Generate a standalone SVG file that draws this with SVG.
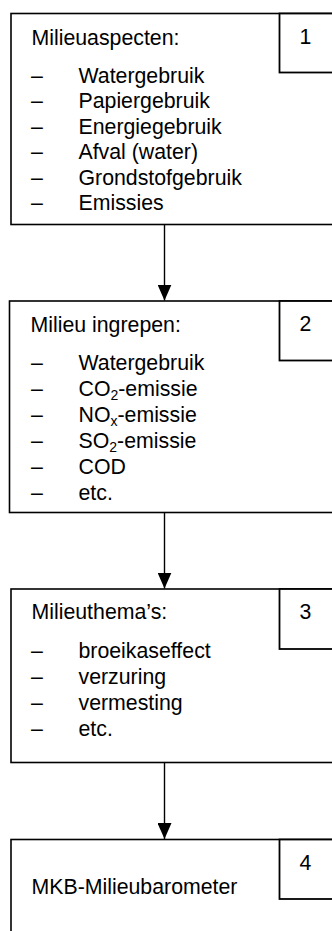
<svg xmlns="http://www.w3.org/2000/svg" width="332" height="931" viewBox="0 0 332 931">
<defs>
<style>
.box{fill:#fff;stroke:#000;stroke-width:1.6}
.num{fill:#fff;stroke:#000;stroke-width:1.8}
.t{font-family:"Liberation Sans",Arial,sans-serif;font-size:21.3px;fill:#000}
.sub{font-size:14px}
.con{stroke:#000;stroke-width:1.4;fill:none}
</style>
<marker id="ah" viewBox="0 0 16 14" refX="16" refY="7" markerWidth="16" markerHeight="14" markerUnits="userSpaceOnUse" orient="auto">
<path d="M0,0 L16,7 L0,14 Z" fill="#000"/>
</marker>
</defs>
<rect width="332" height="931" fill="#fff"/>
<g id="node1">
<rect class="box" x="11" y="13.5" width="340" height="211"/>
<rect class="num" x="279.5" y="13.5" width="70" height="59"/>
<text class="t" x="299.5" y="43.5">1</text>
<text class="t" x="31.5" y="44.5">Milieuaspecten:</text>
<text class="t" x="31" y="82.5">–</text><text class="t" x="78.5" y="82.5">Watergebruik</text>
<text class="t" x="31" y="108">–</text><text class="t" x="78.5" y="108">Papiergebruik</text>
<text class="t" x="31" y="133.5">–</text><text class="t" x="78.5" y="133.5">Energiegebruik</text>
<text class="t" x="31" y="159">–</text><text class="t" x="78.5" y="159">Afval (water)</text>
<text class="t" x="31" y="184.5">–</text><text class="t" x="78.5" y="184.5">Grondstofgebruik</text>
<text class="t" x="31" y="210">–</text><text class="t" x="78.5" y="210">Emissies</text>
</g>
<g id="node2">
<rect class="box" x="9.5" y="301" width="340" height="211.5"/>
<rect class="num" x="279.5" y="301" width="70" height="59.5"/>
<text class="t" x="299.5" y="331">2</text>
<text class="t" x="30.5" y="331.5">Milieu ingrepen:</text>
<text class="t" x="31" y="369.5">–</text><text class="t" x="78.5" y="369.5">Watergebruik</text>
<text class="t" x="31" y="395.5">–</text><text class="t" x="78.5" y="395.5">CO<tspan class="sub" dy="4">2</tspan><tspan dy="-4">-emissie</tspan></text>
<text class="t" x="31" y="422">–</text><text class="t" x="78.5" y="422">NO<tspan class="sub" dy="4">x</tspan><tspan dy="-4">-emissie</tspan></text>
<text class="t" x="31" y="448">–</text><text class="t" x="78.5" y="448">SO<tspan class="sub" dy="4">2</tspan><tspan dy="-4">-emissie</tspan></text>
<text class="t" x="31" y="474">–</text><text class="t" x="78.5" y="474">COD</text>
<text class="t" x="31" y="499.5">–</text><text class="t" x="78.5" y="499.5">etc.</text>
</g>
<g id="node3">
<rect class="box" x="11" y="589" width="340" height="173.5"/>
<rect class="num" x="279.5" y="589" width="70" height="60"/>
<text class="t" x="299.5" y="619">3</text>
<text class="t" x="31.5" y="619">Milieuthema’s:</text>
<text class="t" x="31" y="658">–</text><text class="t" x="78.5" y="658">broeikaseffect</text>
<text class="t" x="31" y="683.5">–</text><text class="t" x="78.5" y="683.5">verzuring</text>
<text class="t" x="31" y="709.5">–</text><text class="t" x="78.5" y="709.5">vermesting</text>
<text class="t" x="31" y="735.5">–</text><text class="t" x="78.5" y="735.5">etc.</text>
</g>
<g id="node4">
<rect class="box" x="11" y="839.5" width="340" height="120"/>
<rect class="num" x="279.5" y="839.5" width="70" height="59.5"/>
<text class="t" x="299.5" y="870">4</text>
<text class="t" x="31.5" y="894">MKB-Milieubarometer</text>
</g>
<g id="connectors">
<line class="con" x1="164.5" y1="224.5" x2="164.5" y2="300.5" marker-end="url(#ah)"/>
<line class="con" x1="164.5" y1="512.5" x2="164.5" y2="588.5" marker-end="url(#ah)"/>
<line class="con" x1="164.5" y1="762.5" x2="164.5" y2="839" marker-end="url(#ah)"/>
</g>
</svg>
